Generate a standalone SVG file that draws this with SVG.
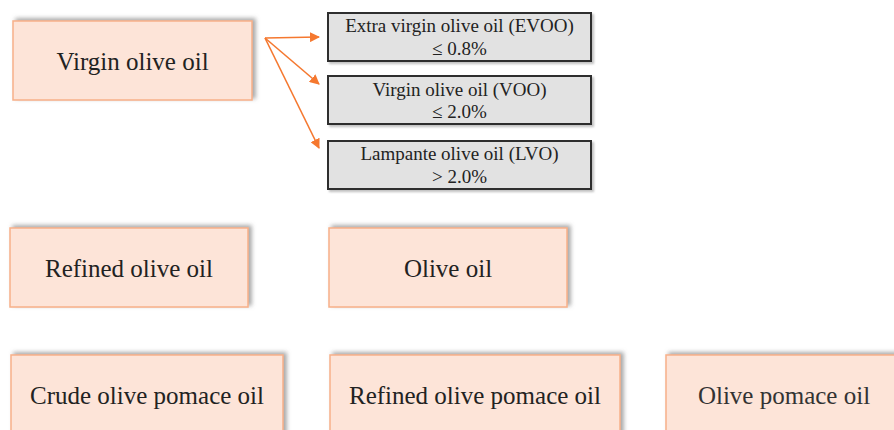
<svg xmlns="http://www.w3.org/2000/svg" width="894" height="430" viewBox="0 0 894 430">
<defs>
<filter id="sh" x="-10%" y="-20%" width="120%" height="140%">
<feDropShadow dx="3" dy="-2" stdDeviation="2" flood-color="#808080" flood-opacity="0.7"/>
</filter>
<filter id="sh2" x="-10%" y="-20%" width="120%" height="140%">
<feDropShadow dx="2" dy="2" stdDeviation="1.2" flood-color="#808080" flood-opacity="0.5"/>
</filter>
<marker id="ah" viewBox="0 0 10 10" refX="9" refY="5" markerWidth="10" markerHeight="10" markerUnits="userSpaceOnUse" orient="auto">
<path d="M0,0 L10,5 L0,10 Z" fill="#f5782f"/>
</marker>
</defs>
<style>
.pk{fill:#fde4d8;stroke:#f7b089;stroke-width:1.5;filter:url(#sh)}
.gr{fill:#e2e2e2;stroke:#2e2e2e;stroke-width:2;filter:url(#sh2)}
text{font-family:'Liberation Serif','Times New Roman',Times,serif;fill:#222;text-anchor:middle}
.t{font-size:25px}
.s{font-size:19px}
.c{stroke:#f5782f;stroke-width:1.6;fill:none;marker-end:url(#ah)}
</style>
<rect width="894" height="430" fill="#fff"/>
<g id="virgin"><rect class="pk" x="13" y="21" width="239" height="79"/><text class="t" x="132.5" y="70" font-family="Liberation Serif, serif">Virgin olive oil</text></g>
<g id="evoo"><rect class="gr" x="328" y="13" width="263" height="48"/><text class="s" x="459.5" y="32">Extra virgin olive oil (EVOO)</text><text class="s" x="459.5" y="55">≤ 0.8%</text></g>
<g id="voo"><rect class="gr" x="328" y="76" width="263" height="48"/><text class="s" x="459.5" y="96">Virgin olive oil (VOO)</text><text class="s" x="459.5" y="118">≤ 2.0%</text></g>
<g id="lvo"><rect class="gr" x="328" y="141" width="263" height="48"/><text class="s" x="459.5" y="160">Lampante olive oil (LVO)</text><text class="s" x="459.5" y="183">&gt; 2.0%</text></g>
<g id="refined"><rect class="pk" x="10" y="228" width="238" height="79"/><text class="t" x="129" y="277">Refined olive oil</text></g>
<g id="oliveoil"><rect class="pk" x="329" y="228" width="238" height="79"/><text class="t" x="448" y="277">Olive oil</text></g>
<g id="crude"><rect class="pk" x="11" y="355" width="272" height="90"/><text class="t" x="147" y="404">Crude olive pomace oil</text></g>
<g id="refpomace"><rect class="pk" x="330" y="355" width="290" height="90"/><text class="t" x="475" y="404">Refined olive pomace oil</text></g>
<g id="pomace"><rect class="pk" x="666" y="355" width="236" height="90"/><text class="t" x="784" y="404" style="fill:#333">Olive pomace oil</text></g>
<g id="connectors">
<line class="c" x1="265" y1="38" x2="319" y2="37"/>
<line class="c" x1="265" y1="38" x2="319" y2="84"/>
<line class="c" x1="265" y1="38" x2="319" y2="148"/>
</g>
</svg>
